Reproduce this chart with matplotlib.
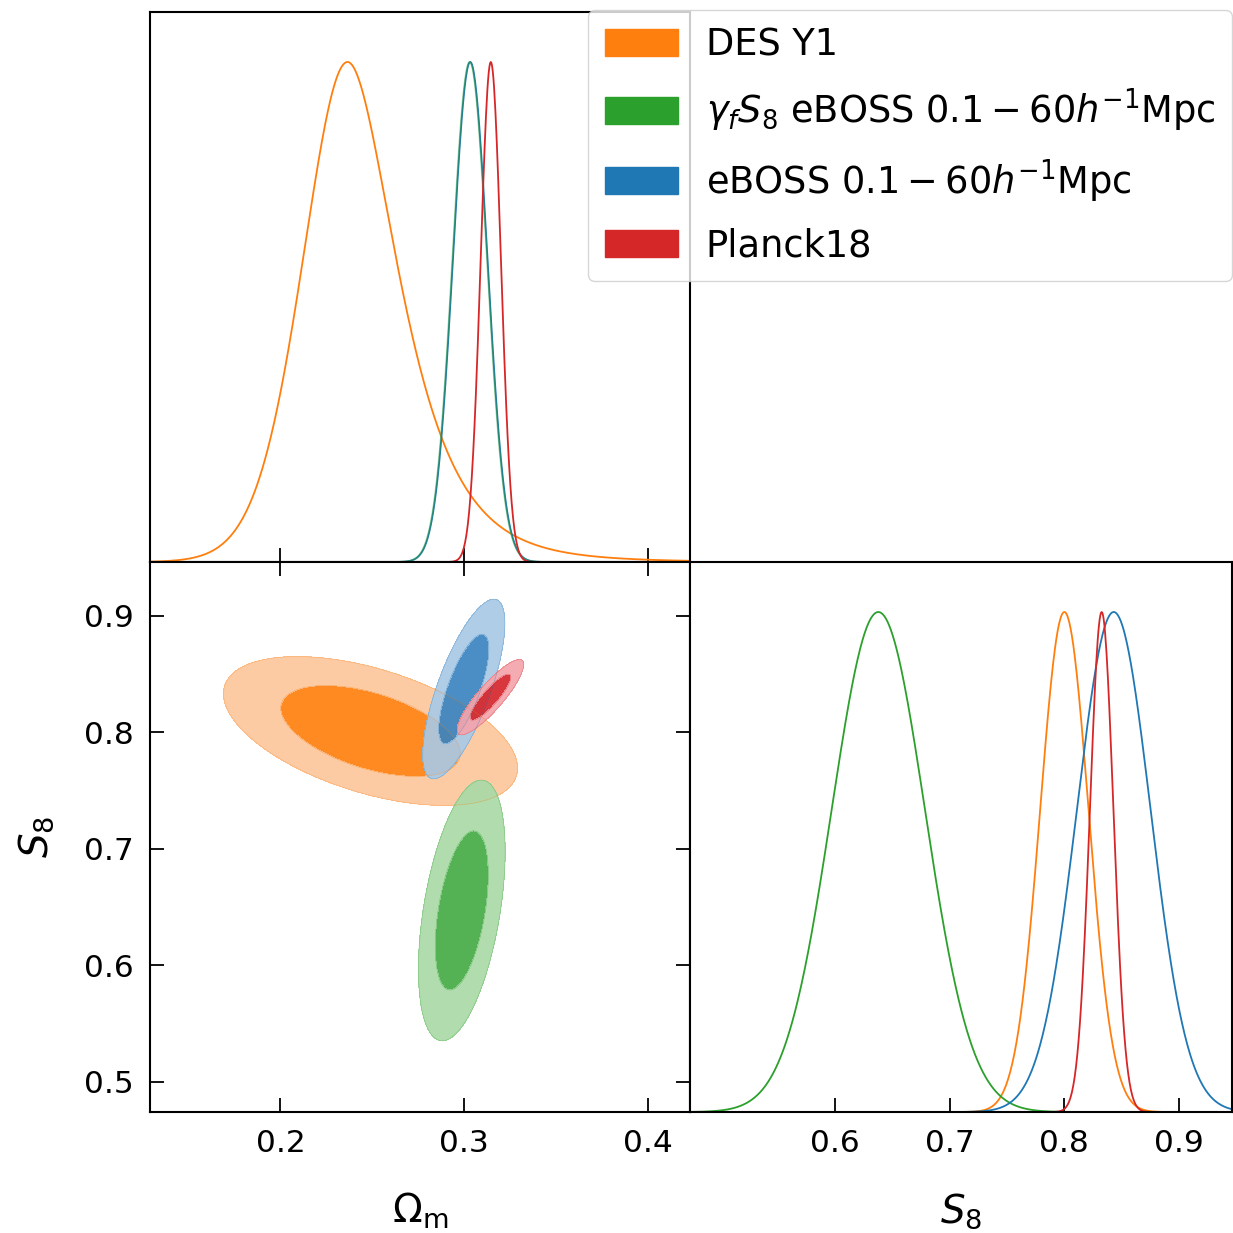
import numpy as np
import matplotlib
matplotlib.use('Agg')
import matplotlib.pyplot as plt
from matplotlib.patches import Patch

# --- posterior summaries --- #
names = ['DES Y1',
         r'$\gamma_f S_8$ eBOSS $0.1-60h^{-1}$Mpc',
         r'eBOSS $0.1-60h^{-1}$Mpc',
         'Planck18']
line_cols = ['#ff7f0e', '#2ca02c', '#1f77b4', '#d62728']
inner_cols = ['#ff800f', '#45ac45', '#3a84c0', '#d5262c']
outer_cols = ['#fcc79b', '#aad9a7', '#a9c9e6', '#f4a5ac']

# 1D Omega_m (peak, left / right width, tail growth of width)
om_peak = [0.2365, 0.3030, 0.3033, 0.3145]
om_wl = [0.023, 0.0094, 0.0094, 0.0055]
om_wr = [0.022, 0.0094, 0.0094, 0.0055]
om_kl = [0.05, 0.0, 0.0, 0.0]
om_kr = [0.17, 0.0, 0.0, 0.0]

# 1D S8
s8_mean = [0.800, 0.638, 0.843, 0.8325]
s8_sig = [0.021, 0.0405, 0.032, 0.0102]

# 2D (Omega_m, S8) ellipses
c_om = [0.249, 0.2987, 0.2998, 0.3143]
c_s8 = [0.801, 0.647, 0.837, 0.830]
sd_om = [0.0322, 0.0095, 0.0090, 0.0073]
sd_s8 = [0.0257, 0.045, 0.031, 0.013]
rho = [-0.5, 0.45, 0.73, 0.87]

OM_LIM = (0.129, 0.423)
S8_LIM = (0.474, 0.946)
OM_TICKS = [0.2, 0.3, 0.4]
S8_TICKS = [0.5, 0.6, 0.7, 0.8, 0.9]
S8_XTICKS = [0.6, 0.7, 0.8, 0.9]


def asym_peak(x, mode, wl, wr, kl, kr):
    d = x - mode
    w = np.where(d < 0, wl + kl * np.abs(d), wr + kr * np.abs(d))
    return np.exp(-0.5 * (d / w) ** 2)


fig = plt.figure(figsize=(12.33, 12.33), dpi=100)
ax_tl = fig.add_axes([0.1217, 0.5442, 0.4380, 0.4461])
ax_bl = fig.add_axes([0.1217, 0.0981, 0.4380, 0.4461])
ax_br = fig.add_axes([0.5596, 0.0981, 0.4396, 0.4461])

for ax in (ax_tl, ax_bl, ax_br):
    for sp in ax.spines.values():
        sp.set_linewidth(1.5)

# top-left: Omega_m marginals (blue and green overlap -> teal)
xo = np.linspace(OM_LIM[0], OM_LIM[1], 800)
tl_alpha = [1.0, 0.45, 1.0, 1.0]
for i in [0, 2, 1, 3]:
    ax_tl.plot(xo, asym_peak(xo, om_peak[i], om_wl[i], om_wr[i], om_kl[i], om_kr[i]),
               color=line_cols[i], lw=1.3, alpha=tl_alpha[i])
ax_tl.set_xlim(OM_LIM)
ax_tl.set_ylim(0, 1.1)
ax_tl.set_xticks(OM_TICKS)
ax_tl.set_yticks([])
ax_tl.tick_params(axis='x', direction='in', length=10, width=1.3, labelbottom=False)

# bottom-left: 2D contours
X, Y = np.meshgrid(np.linspace(OM_LIM[0], OM_LIM[1], 600), np.linspace(S8_LIM[0], S8_LIM[1], 600))
for i in range(4):
    dx = (X - c_om[i]) / sd_om[i]
    dy = (Y - c_s8[i]) / sd_s8[i]
    chi2 = (dx ** 2 - 2 * rho[i] * dx * dy + dy ** 2) / (1 - rho[i] ** 2)
    ax_bl.contourf(X, Y, chi2, levels=[0, 2.30, 6.18], colors=[inner_cols[i], outer_cols[i]], alpha=0.92)
    ax_bl.contour(X, Y, chi2, levels=[2.30, 6.18], colors=[line_cols[i]], linewidths=0.5, alpha=0.35)
ax_bl.set_xlim(OM_LIM)
ax_bl.set_ylim(S8_LIM)
ax_bl.set_xticks(OM_TICKS)
ax_bl.set_yticks(S8_TICKS)
ax_bl.set_xticklabels(['0.2', '0.3', '0.4'])
ax_bl.set_yticklabels(['0.5', '0.6', '0.7', '0.8', '0.9'])
ax_bl.tick_params(direction='in', top=True, right=True, length=10, width=1.3, labelsize=22.5)
ax_bl.tick_params(axis='x', pad=12)
ax_bl.tick_params(axis='y', pad=12)
ax_bl.set_xlabel(r'$\Omega_{\rm m}$', fontsize=28, labelpad=24)
ax_bl.set_ylabel(r'$S_8$', fontsize=28, labelpad=20)

# bottom-right: S8 marginals
xs = np.linspace(S8_LIM[0], S8_LIM[1], 800)
for i in range(4):
    ax_br.plot(xs, np.exp(-0.5 * ((xs - s8_mean[i]) / s8_sig[i]) ** 2), color=line_cols[i], lw=1.3)
ax_br.set_xlim(S8_LIM)
ax_br.set_ylim(0, 1.1)
ax_br.set_xticks(S8_XTICKS)
ax_br.set_xticklabels(['0.6', '0.7', '0.8', '0.9'])
ax_br.set_yticks([])
ax_br.tick_params(axis='x', direction='in', length=10, width=1.3, labelsize=22.5, pad=12)
ax_br.set_xlabel(r'$S_8$', fontsize=28, labelpad=24)

handles = [Patch(facecolor=c, edgecolor=c) for c in line_cols]
fig.legend(handles, names, loc='upper right', bbox_to_anchor=(0.9992, 0.9919),
           fontsize=26.5, handlelength=2.0, handleheight=0.75, handletextpad=0.75,
           labelspacing=0.62, borderpad=0.45, borderaxespad=0, edgecolor='#cccccc')

fig.savefig('out.png', dpi=100)
